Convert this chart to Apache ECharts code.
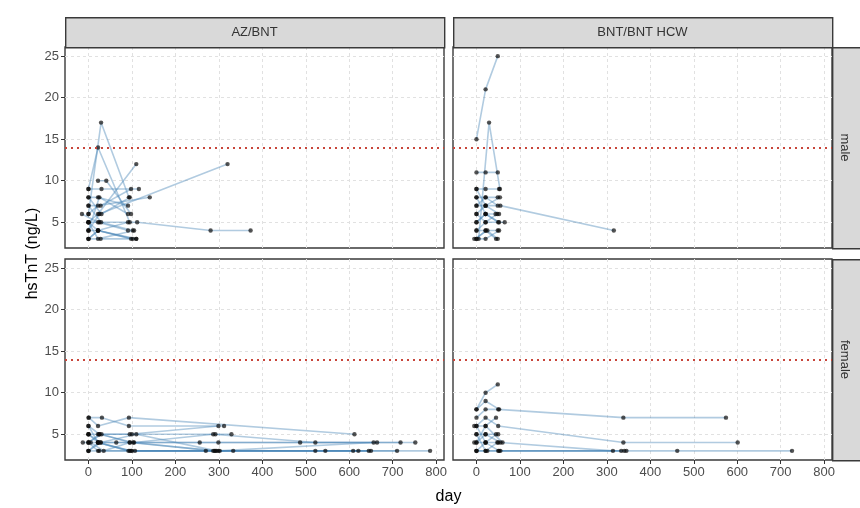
<!DOCTYPE html>
<html><head><meta charset="utf-8">
<script src="https://cdn.jsdelivr.net/npm/echarts@6/dist/echarts.min.js"></script>
<style>html,body{margin:0;padding:0;background:#fff}#c{width:860px;height:508px}</style>
</head><body><div id="c"></div>
<script>
// ---- data ----
const colLabels = ['AZ/BNT', 'BNT/BNT HCW'];
const rowLabels = ['male', 'female'];
const xTicks = [0, 100, 200, 300, 400, 500, 600, 700, 800];
const yTicks = [5, 10, 15, 20, 25];
const refValue = 14;
const xTitle = 'day';
const yTitle = 'hsTnT (ng/L)';

// each subject: [[day, hsTnT], ...]
const azMale = [
  [[0,6],[29,17],[93,8]],
  [[0,9],[22,14],[95,5]],
  [[0,5],[22,6],[110,12]],
  [[0,4],[25,6],[320,12]],
  [[0,3],[22,4],[102,3]],
  [[0,4],[22,4],[98,3]],
  [[0,5],[25,5],[112,5],[281,4],[373,4]],
  [[0,8],[22,8],[91,7]],
  [[0,7],[28,7],[98,9]],
  [[-15,6],[22,5],[91,4]],
  [[22,10],[41,10],[98,6]],
  [[0,3],[28,3],[110,3]],
  [[0,9],[30,9],[116,9]],
  [[0,6],[22,7],[141,8]],
  [[0,5],[22,3],[105,4]],
  [[0,4],[25,8],[91,6]],
  [[0,3],[22,4],[91,5]],
  [[0,7],[29,5],[102,4]],
  [[0,8],[30,6],[95,8]],
  [[0,5],[22,4],[110,3]]
];
const hcwMale = [
  [[0,15],[21,21],[49,25]],
  [[5,3],[29,17],[54,9]],
  [[0,11],[21,11],[49,11]],
  [[0,9],[21,9],[52,9]],
  [[0,8],[21,8],[49,8]],
  [[0,7],[21,7],[55,7],[316,4]],
  [[0,6],[21,5],[48,6]],
  [[0,5],[21,6],[52,5]],
  [[0,4],[21,4],[45,3]],
  [[0,3],[21,3],[52,4]],
  [[-5,3],[25,4],[49,3]],
  [[0,5],[21,6],[44,6]],
  [[0,6],[21,7],[52,6]],
  [[0,4],[21,5],[65,5]],
  [[0,3],[21,4],[49,4]],
  [[0,7],[21,8],[49,7]],
  [[0,9],[21,7],[54,8]],
  [[0,8],[21,6],[50,5]]
];
const azFemale = [
  [[1,7],[22,6],[93,7],[612,5]],
  [[0,7],[31,7],[93,6],[312,6]],
  [[0,6],[25,5],[95,5],[299,6]],
  [[0,5],[22,5],[100,5],[292,5],[329,5]],
  [[0,5],[28,4],[105,4],[287,5],[522,4],[752,4]],
  [[-13,4],[22,4],[64,4],[256,4],[487,4],[718,4]],
  [[0,4],[30,5],[95,4],[299,4],[664,4]],
  [[0,4],[22,3],[107,3],[299,3],[656,4]],
  [[0,3],[22,4],[92,3],[270,3],[545,3],[786,3]],
  [[0,3],[25,3],[100,3],[302,3],[609,3],[710,3]],
  [[0,5],[22,4],[95,3],[333,3],[621,3]],
  [[0,4],[25,5],[103,4],[290,3],[522,3],[645,3]],
  [[0,3],[28,4],[110,5],[295,3],[650,3]],
  [[0,6],[22,4],[98,3],[287,3]],
  [[5,4],[35,3],[95,4],[292,3]]
];
const hcwFemale = [
  [[0,8],[21,10],[49,11]],
  [[0,8],[21,9],[52,8]],
  [[0,7],[21,8],[50,8],[338,7],[574,7]],
  [[0,6],[21,7],[50,6],[338,4],[601,4]],
  [[-5,6],[21,6],[45,7]],
  [[0,5],[21,5],[50,5]],
  [[0,4],[21,5],[55,4],[314,3]],
  [[-5,4],[21,4],[50,4]],
  [[0,3],[21,4],[52,3],[333,3]],
  [[0,3],[25,3],[50,3],[345,3],[462,3],[726,3]],
  [[0,5],[21,3],[48,4]],
  [[0,4],[21,6],[60,4]],
  [[0,6],[21,4],[45,5]],
  [[0,3],[21,3],[55,3],[340,3]]
];

// ---- layout ----
const panels = [
  {subjects: azMale, col: 0, row: 0},
  {subjects: hcwMale, col: 1, row: 0},
  {subjects: azFemale, col: 0, row: 1},
  {subjects: hcwFemale, col: 1, row: 1}
];
const LEFTS = [65, 453];
const PW = 379;
const TOPS = [47, 259];
const PH = 201;
const STRIP_TOP = 17;
const BORDER = '#3a3a3a';
const TXT = '#4d4d4d';
const GRIDC = '#e1e1e1';

const grids = [], xAxes = [], yAxes = [], series = [];
panels.forEach((p, k) => {
  grids.push({left: LEFTS[p.col], top: TOPS[p.row], width: PW, height: PH,
    show: true, borderColor: BORDER, borderWidth: 1.4, backgroundColor: '#fff', containLabel: false});
  xAxes.push({type: 'value', gridIndex: k, min: -54, max: 818, position: 'bottom',
    axisLine: {show: false, onZero: false},
    axisTick: {show: p.row === 1, length: 4, lineStyle: {color: '#333'}, customValues: xTicks},
    axisLabel: {show: p.row === 1, customValues: xTicks, color: TXT, fontSize: 13, margin: 6, fontFamily: 'Liberation Sans'},
    splitLine: {show: true, lineStyle: {color: GRIDC, type: [3, 3], width: 1}}
  });
  yAxes.push({type: 'value', gridIndex: k, min: 1.9, max: 26.1, position: 'left',
    axisLine: {show: false, onZero: false},
    axisTick: {show: p.col === 0, length: 4, lineStyle: {color: '#333'}, customValues: yTicks},
    axisLabel: {show: p.col === 0, customValues: yTicks, color: TXT, fontSize: 13, margin: 6, fontFamily: 'Liberation Sans'},
    splitLine: {show: true, lineStyle: {color: GRIDC, type: [3, 3], width: 1}}
  });
  p.subjects.forEach(s => {
    series.push({type: 'line', xAxisIndex: k, yAxisIndex: k, data: s, showSymbol: false, symbol: 'none',
      lineStyle: {color: 'rgba(70,130,180,0.42)', width: 1.6}, silent: true, z: 2, animation: false});
  });
  const pts = [];
  p.subjects.forEach(s => s.forEach(pt => pts.push(pt)));
  series.push({type: 'scatter', xAxisIndex: k, yAxisIndex: k, data: pts, symbolSize: 4.4,
    itemStyle: {color: 'rgba(12,12,12,0.88)'}, z: 4, silent: true, animation: false,
    markLine: {silent: true, symbol: 'none', label: {show: false}, animation: false,
      lineStyle: {color: '#c8453a', type: [2, 4], width: 1.8},
      data: [{yAxis: refValue}]}
  });
});

const graphic = [];
colLabels.forEach((t, c) => {
  graphic.push({type: 'rect', left: LEFTS[c], top: STRIP_TOP, z: 10,
    shape: {width: PW, height: TOPS[0] - STRIP_TOP},
    style: {fill: '#d9d9d9', stroke: BORDER, lineWidth: 1.4}});
  graphic.push({type: 'text', x: LEFTS[c] + PW / 2, y: (STRIP_TOP + TOPS[0]) / 2, z: 11,
    style: {text: t, fill: '#333', font: '13px "Liberation Sans"', align: 'center', verticalAlign: 'middle'}});
});
rowLabels.forEach((t, r) => {
  const x0 = LEFTS[1] + PW;
  graphic.push({type: 'rect', left: x0, top: TOPS[r], z: 10,
    shape: {width: 40, height: PH},
    style: {fill: '#d9d9d9', stroke: BORDER, lineWidth: 1.4}});
  graphic.push({type: 'text', x: x0 + 13, y: TOPS[r] + PH / 2, z: 11, rotation: -Math.PI / 2,
    style: {text: t, fill: '#333', font: '13px "Liberation Sans"', align: 'center', verticalAlign: 'middle'}});
});
graphic.push({type: 'text', x: (LEFTS[0] + LEFTS[1] + PW) / 2, y: 497, z: 11,
  style: {text: xTitle, fill: '#000', font: '16px "Liberation Sans"', align: 'center', verticalAlign: 'middle'}});
graphic.push({type: 'text', x: 33, y: (TOPS[0] + TOPS[1] + PH) / 2, z: 11, rotation: Math.PI / 2,
  style: {text: yTitle, fill: '#000', font: '16px "Liberation Sans"', align: 'center', verticalAlign: 'middle'}});

const chart = echarts.init(document.getElementById('c'), null, {renderer: 'canvas'});
chart.setOption({
  backgroundColor: '#fff',
  animation: false,
  grid: grids, xAxis: xAxes, yAxis: yAxes, series: series, graphic: graphic
});
</script></body></html>
